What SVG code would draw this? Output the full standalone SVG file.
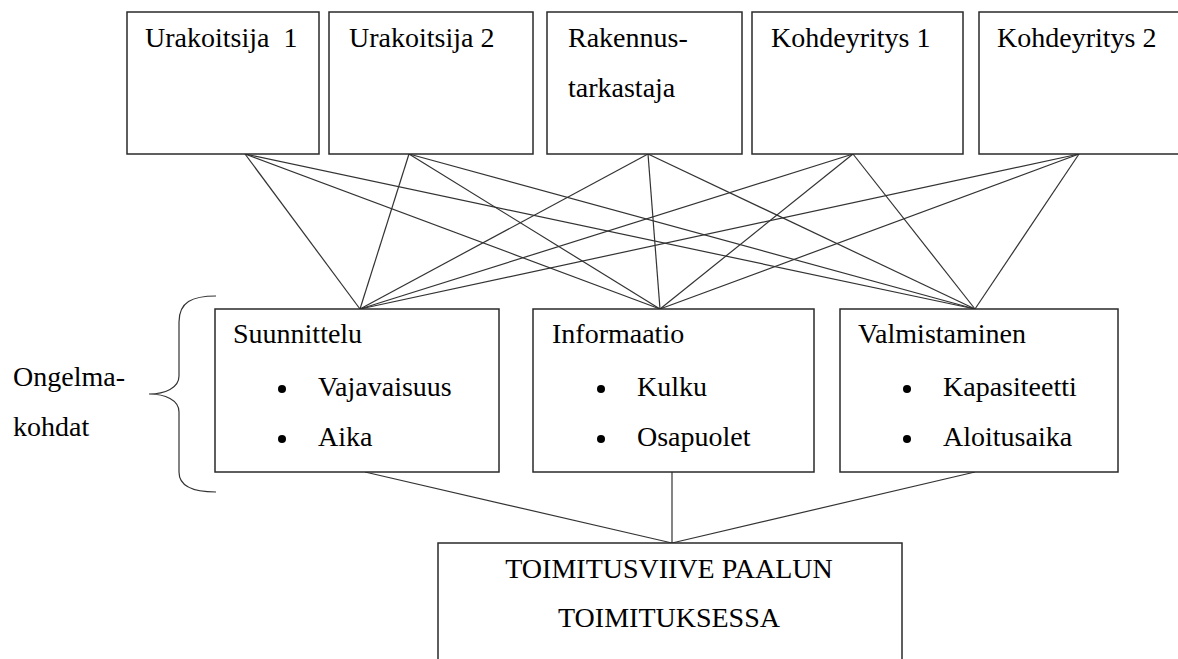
<svg xmlns="http://www.w3.org/2000/svg" width="1178" height="659" viewBox="0 0 1178 659">
<style>
.box{fill:#fff;stroke:#2a2a2a;stroke-width:1.5}
.t{font-size:28px;fill:#000}
.c{stroke:#333;stroke-width:1.2;fill:none}
.b{fill:#000}
</style>
<rect width="1178" height="659" fill="#fff"/>
<g id="connectors">
<line class="c" x1="245" y1="154" x2="360" y2="309"/>
<line class="c" x1="245" y1="154" x2="660" y2="309"/>
<line class="c" x1="245" y1="154" x2="975" y2="309"/>
<line class="c" x1="409" y1="154" x2="360" y2="309"/>
<line class="c" x1="409" y1="154" x2="660" y2="309"/>
<line class="c" x1="409" y1="154" x2="975" y2="309"/>
<line class="c" x1="648" y1="154" x2="360" y2="309"/>
<line class="c" x1="648" y1="154" x2="660" y2="309"/>
<line class="c" x1="648" y1="154" x2="975" y2="309"/>
<line class="c" x1="853" y1="154" x2="360" y2="309"/>
<line class="c" x1="853" y1="154" x2="660" y2="309"/>
<line class="c" x1="853" y1="154" x2="975" y2="309"/>
<line class="c" x1="1079" y1="154" x2="360" y2="309"/>
<line class="c" x1="1079" y1="154" x2="660" y2="309"/>
<line class="c" x1="1079" y1="154" x2="975" y2="309"/>
<line class="c" x1="365" y1="472" x2="672" y2="543"/>
<line class="c" x1="672" y1="472" x2="672" y2="543"/>
<line class="c" x1="975" y1="472" x2="672" y2="543"/>
<path class="c" d="M216,296 C192,296 179,302 179,322 L179,376 C179,388 165,394 149,394 C165,394 179,400 179,412 L179,472 C179,486 192,492 216,492" stroke-width="1.4"/>
</g>
<g font-family="'Liberation Serif', Tinos, 'Times New Roman', 'DejaVu Serif', serif">
<g id="urakoitsija1">
<rect class="box" x="127" y="12" width="192" height="142"/>
<text class="t" x="145" y="47" xml:space="preserve">Urakoitsija  1</text>
</g>
<g id="urakoitsija2">
<rect class="box" x="329" y="12" width="204" height="142"/>
<text class="t" x="349" y="47">Urakoitsija 2</text>
</g>
<g id="rakennustarkastaja">
<rect class="box" x="547" y="12" width="195" height="142"/>
<text class="t" x="568" y="47">Rakennus-</text>
<text class="t" x="568" y="97">tarkastaja</text>
</g>
<g id="kohdeyritys1">
<rect class="box" x="752" y="12" width="211" height="142"/>
<text class="t" x="771" y="47">Kohdeyritys 1</text>
</g>
<g id="kohdeyritys2">
<rect class="box" x="979" y="12" width="230" height="142"/>
<text class="t" x="997" y="47">Kohdeyritys 2</text>
</g>
<g id="ongelmakohdat">
<text class="t" x="13" y="386">Ongelma-</text>
<text class="t" x="13" y="436">kohdat</text>
</g>
<g id="suunnittelu">
<rect class="box" x="215" y="309" width="284" height="163"/>
<text class="t" x="233" y="343">Suunnittelu</text>
<circle class="b" cx="282" cy="389" r="4"/>
<text class="t" x="318" y="396">Vajavaisuus</text>
<circle class="b" cx="282" cy="439" r="4"/>
<text class="t" x="318" y="446">Aika</text>
</g>
<g id="informaatio">
<rect class="box" x="533" y="309" width="281" height="163"/>
<text class="t" x="552" y="343">Informaatio</text>
<circle class="b" cx="601" cy="389" r="4"/>
<text class="t" x="637" y="396">Kulku</text>
<circle class="b" cx="601" cy="439" r="4"/>
<text class="t" x="637" y="446">Osapuolet</text>
</g>
<g id="valmistaminen">
<rect class="box" x="840" y="309" width="278" height="163"/>
<text class="t" x="858" y="343">Valmistaminen</text>
<circle class="b" cx="907" cy="389" r="4"/>
<text class="t" x="943" y="396">Kapasiteetti</text>
<circle class="b" cx="907" cy="439" r="4"/>
<text class="t" x="943" y="446">Aloitusaika</text>
</g>
<g id="toimitusviive">
<rect class="box" x="438" y="543" width="464" height="160"/>
<text class="t" x="669" y="578" text-anchor="middle">TOIMITUSVIIVE PAALUN</text>
<text class="t" x="669" y="627" text-anchor="middle">TOIMITUKSESSA</text>
</g>
</g>
</svg>
